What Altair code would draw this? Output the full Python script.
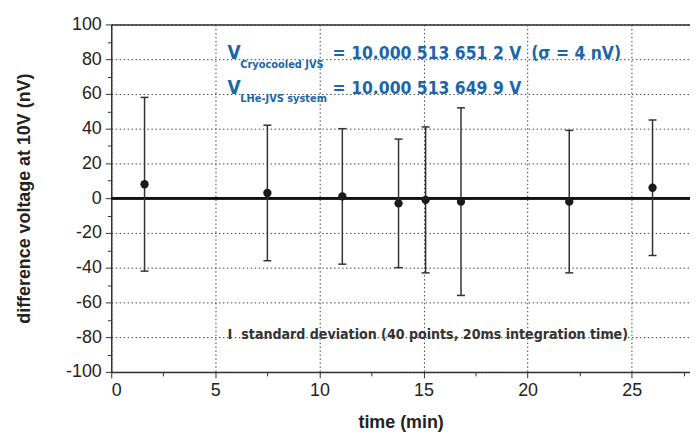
import altair as alt
import pandas as pd

# Data
times = [1.6, 7.5, 11.1, 13.8, 15.1, 16.8, 22.0, 26.0]
values = [8.0, 3.0, 1.0, -3.0, -1.0, -2.0, -2.0, 6.0]
sigmas = [50.0, 39.0, 39.0, 37.0, 42.0, 54.0, 41.0, 39.0]

x_major = [0, 5, 10, 15, 20, 25]
x_minor = [2.5, 7.5, 12.5, 17.5, 22.5, 27.5]
y_major = list(range(-100, 101, 20))
y_minor = list(range(-90, 91, 20))

df = pd.DataFrame({"t": times, "v": values, "s": sigmas})
df["lo"] = df["v"] - df["s"]
df["hi"] = df["v"] + df["s"]

xs = alt.Scale(domain=[0, 27.8], nice=False, zero=False)
ys = alt.Scale(domain=[-100, 100], nice=False, zero=False)

LABEL_FONT = "Liberation Sans"
BLUE = "#1a66ab"
ANN_FONT = "DejaVu Sans Condensed"

x_main_axis = alt.Axis(values=x_major, orient="bottom", grid=True, gridDash=[1.5, 2.5],
                       gridColor="#444", gridWidth=1, tickSize=6, tickColor="#333",
                       domainColor="#333", domainWidth=1.5, labelFont=LABEL_FONT,
                       labelFontSize=18, labelColor="#222", labelPadding=4,
                       labelExpr="'' + datum.value",
                       title="time (min)", titleFont=LABEL_FONT, titleFontSize=18,
                       titleFontWeight="bold", titleColor="#222", titlePadding=14)
y_main_axis = alt.Axis(values=y_major, orient="left", grid=True, gridDash=[1.5, 2.5],
                       gridColor="#444", gridWidth=1, tickSize=6, tickColor="#333",
                       domainColor="#333", domainWidth=1.5, labelFont=LABEL_FONT,
                       labelFontSize=18, labelColor="#222", labelPadding=4,
                       labelExpr="'' + datum.value",
                       title="difference voltage at 10V (nV)", titleFont=LABEL_FONT,
                       titleFontSize=18, titleFontWeight="bold", titleColor="#222",
                       titlePadding=32)
x_minor_axis = alt.Axis(values=x_minor, orient="bottom", grid=False, labels=False,
                        domain=False, tickSize=4, tickColor="#333", title=None)
y_minor_axis = alt.Axis(values=y_minor, orient="left", grid=False, labels=False,
                        domain=False, tickSize=4, tickColor="#333", title=None)
x_top_axis = alt.Axis(orient="top", grid=False, labels=False, ticks=False,
                      domain=True, domainColor="#333", domainWidth=1.5, title=None)

base = alt.Chart(df)

zero_line = base.mark_rule(color="#111", strokeWidth=2).encode(
    y=alt.datum(0, scale=ys, axis=None)
)

bars = base.mark_rule(color="#333", strokeWidth=1.5).encode(
    x=alt.X("t:Q", scale=xs, axis=x_main_axis),
    y=alt.Y("lo:Q", scale=ys, axis=y_main_axis),
    y2="hi:Q",
)

CAP = "M-1,0L1,0"
caps_hi = base.mark_point(shape=CAP, size=64, filled=False, stroke="#333",
                          strokeWidth=1.5, opacity=1).encode(
    x=alt.X("t:Q", scale=xs, axis=x_top_axis),
    y=alt.Y("hi:Q", scale=ys, axis=None),
)
caps_lo = base.mark_point(shape=CAP, size=64, filled=False, stroke="#333",
                          strokeWidth=1.5, opacity=1).encode(
    x=alt.X("t:Q", scale=xs, axis=None),
    y=alt.Y("lo:Q", scale=ys, axis=None),
)

points = base.mark_circle(size=70, color="#1a1a1a", opacity=1).encode(
    x=alt.X("t:Q", scale=xs, axis=x_minor_axis),
    y=alt.Y("v:Q", scale=ys, axis=y_minor_axis),
)

def txt(text, x, y, size, color=BLUE, font=ANN_FONT):
    return alt.Chart(pd.DataFrame({"a": [0]})).mark_text(
        text=text, font=font, fontSize=size, fontWeight="bold", color=color,
        align="left", baseline="alphabetic"
    ).encode(x=alt.value(x), y=alt.value(y))

annotations = [
    txt("V", 117, 35, 19),
    txt("Cryocooled JVS", 130, 44, 11),
    txt("= 10.000 513 651 2 V", 223, 35, 17.5),
    txt("(σ = 4 nV)", 423, 35, 17.5),
    txt("V", 117, 70, 19),
    txt("LHe-JVS system", 130, 78, 11),
    txt("= 10.000 513 649 9 V", 223, 70, 17.5),
    txt("I", 117, 317, 14.5, color="#333"),
    txt("standard deviation (40 points, 20ms integration time)", 131, 317, 14.2, color="#333"),
]

chart = alt.layer(zero_line, bars, caps_hi, caps_lo, points, *annotations).resolve_axis(
    x="independent", y="independent"
).properties(
    width=583, height=350,
    autosize=alt.AutoSizeParams(type="none"),
    padding={"left": 104, "top": 15, "right": 0, "bottom": 60},
).configure_view(stroke=None).configure(background="white")

chart.save("out.html", embed_options={"renderer": "svg", "actions": False})
